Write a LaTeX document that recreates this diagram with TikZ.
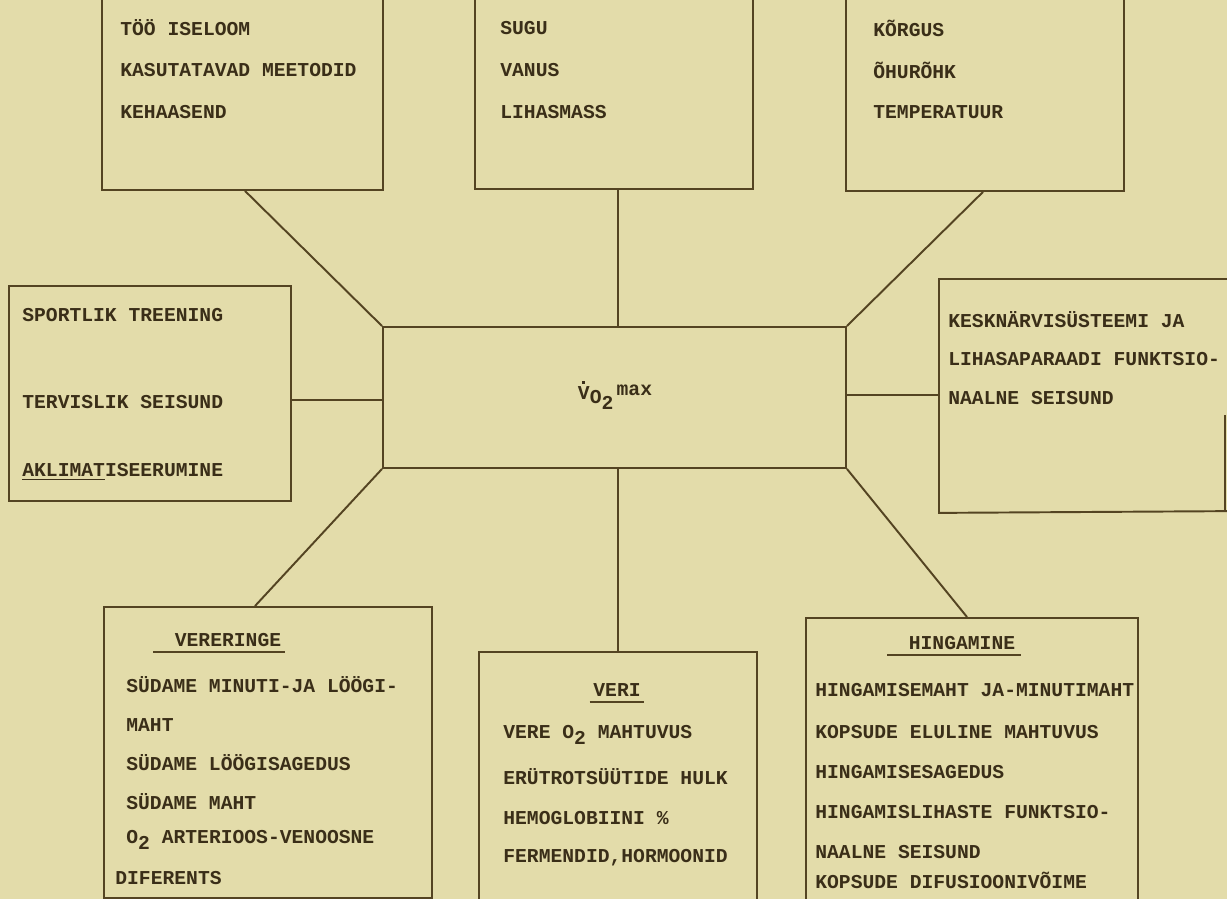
\documentclass[tikz,border=0pt]{standalone}
\usepackage{fontspec}
\newfontfamily\tw{Liberation Mono}
\definecolor{paper}{RGB}{227,220,170}
\definecolor{ink}{RGB}{84,68,34}
\definecolor{txt}{RGB}{58,46,24}
\newcommand\pxbox[5]{\node[box, anchor=north west, minimum width={(#4-#2)*0.02cm}, minimum height={(#5-#3)*0.02cm}] (#1) at (#2,#3) {};}
\newcommand\dotV{\ooalign{V\cr\hidewidth\raisebox{0.78em}{\rule{1.6pt}{1.6pt}}\hidewidth\cr}}
\begin{document}
\begin{tikzpicture}[x=0.02cm,y=-0.02cm,
  box/.style={draw=ink, line width=1.1pt, inner sep=0pt},
  con/.style={draw=ink, line width=1.1pt},
  lbl/.style={text=txt, anchor=west, inner sep=0pt, font=\tw\bfseries\fontsize{11.2}{13}\selectfont},
  ttl/.style={lbl, anchor=center}]
\fill[paper] (0,0) rectangle (1227,899);
\useasboundingbox (0,0) rectangle (1227,899);
% boxes
\pxbox{too}{101}{-20}{382}{189}
\pxbox{sugu}{474}{-20}{752}{188}
\pxbox{korg}{845}{-20}{1123}{190}
\pxbox{left}{8}{285}{290}{500}
\pxbox{ctr}{382}{326}{845}{467}
\node[box, draw=none, anchor=north west, minimum width=6.12cm, minimum height=4.64cm] (right) at (939,279) {};
\draw[con] (1250,279) -- (right.north west) -- (right.south west) -- (1250,511);
\draw[con] (1225,415) -- (1225,511);
\pxbox{vere}{103}{606}{431}{897}
\pxbox{veri}{478}{651}{756}{899}
\pxbox{hing}{805}{617}{1137}{899}
% connectors
\draw[con] (too.south -| 245,0) -- (ctr.north west);
\draw[con] (sugu.south -| 618,0) -- (ctr.north -| 618,0);
\draw[con] (korg.south -| 983,0) -- (ctr.north east);
\draw[con] (left.east |- 0,400) -- (ctr.west |- 0,400);
\draw[con] (right.west |- 0,395) -- (ctr.east |- 0,395);
\draw[con] (ctr.south west) -- (vere.north -| 255,0);
\draw[con] (ctr.south -| 618,0) -- (veri.north -| 618,0);
\draw[con] (ctr.south east) -- (hing.north -| 967,0);
% top boxes text
\node[lbl] (t1) at (120,28) {TÖÖ ISELOOM};
\node[lbl] (t2) at (120,70) {KASUTATAVAD MEETODID};
\node[lbl] (t3) at (120,112) {KEHAASEND};
\node[lbl] (s1) at (500,28) {SUGU};
\node[lbl] (s2) at (500,70) {VANUS};
\node[lbl] (s3) at (500,112) {LIHASMASS};
\node[lbl] (k1) at (873,28) {KÕRGUS};
\node[lbl] (k2) at (873,70) {ÕHURÕHK};
\node[lbl] (k3) at (873,112) {TEMPERATUUR};
% left box
\node[lbl] (l1) at (22,315) {SPORTLIK TREENING};
\node[lbl] (l2) at (22,402) {TERVISLIK SEISUND};
\node[lbl] (l3) at (22,472) {\underline{AKLIMAT}ISEERUMINE};
% center
\node[ttl] (vo) at (615,397) {\dotV\raisebox{-0.45ex}{O\raisebox{-0.55ex}{2}}\,\raisebox{0.4ex}{max}};
% right box
\node[lbl] (r1) at (948,320) {KESKNÄRVISÜSTEEMI JA};
\node[lbl] (r2) at (948,359) {LIHASAPARAADI FUNKTSIO-};
\node[lbl] (r3) at (948,398) {NAALNE SEISUND};
% vereringe
\node[ttl] (vt) at (228,640) {VERERINGE};
\draw[con] ([xshift=-12pt,yshift=-3pt]vt.south west) -- ([xshift=2pt,yshift=-3pt]vt.south east);
\node[lbl] (v1) at (126,685) {SÜDAME MINUTI-JA LÖÖGI-};
\node[lbl] (v2) at (126,725) {MAHT};
\node[lbl] (v3) at (126,763) {SÜDAME LÖÖGISAGEDUS};
\node[lbl] (v4) at (126,802) {SÜDAME MAHT};
\node[lbl] (v5) at (126,840) {O\raisebox{-0.6ex}{2} ARTERIOOS-VENOOSNE};
\node[lbl] (v6) at (115,878) {DIFERENTS};
% veri
\node[ttl] (rt) at (617,690) {VERI};
\draw[con] ([xshift=-2pt,yshift=-3pt]rt.south west) -- ([xshift=2pt,yshift=-3pt]rt.south east);
\node[lbl] (e1) at (503,735) {VERE O\raisebox{-0.6ex}{2} MAHTUVUS};
\node[lbl] (e2) at (503,777) {ERÜTROTSÜÜTIDE HULK};
\node[lbl] (e3) at (503,818) {HEMOGLOBIINI \%};
\node[lbl] (e4) at (503,858) {FERMENDID,HORMOONID};
% hingamine
\node[ttl] (ht) at (962,643) {HINGAMINE};
\draw[con] ([xshift=-12pt,yshift=-3pt]ht.south west) -- ([xshift=3pt,yshift=-3pt]ht.south east);
\node[lbl] (h1) at (815,690) {HINGAMISEMAHT JA-MINUTIMAHT};
\node[lbl] (h2) at (815,732) {KOPSUDE ELULINE MAHTUVUS};
\node[lbl] (h3) at (815,772) {HINGAMISESAGEDUS};
\node[lbl] (h4) at (815,812) {HINGAMISLIHASTE FUNKTSIO-};
\node[lbl] (h5) at (815,852) {NAALNE SEISUND};
\node[lbl] (h6) at (815,880) {KOPSUDE DIFUSIOONIVÕIME};
\end{tikzpicture}
\end{document}
